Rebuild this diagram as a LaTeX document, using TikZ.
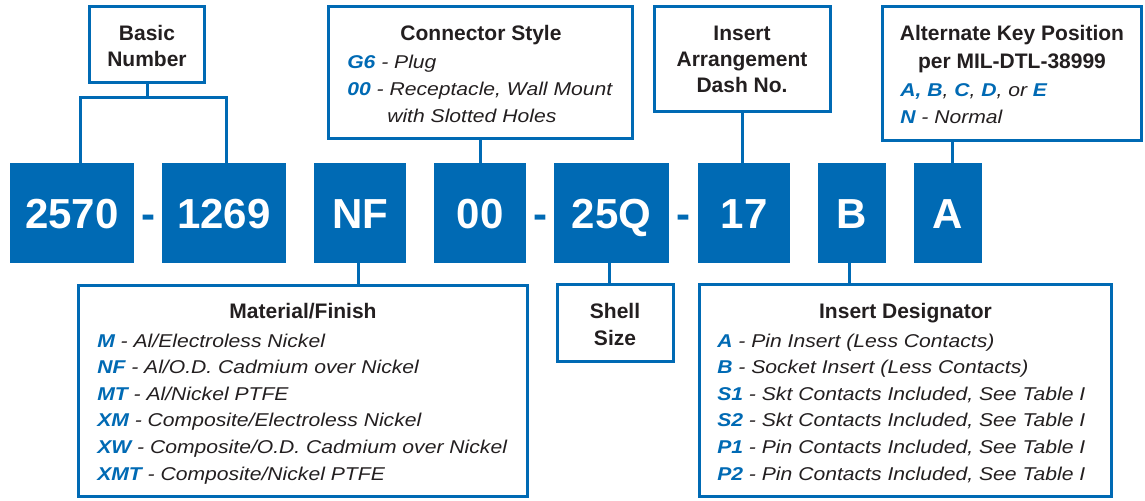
\documentclass[tikz,border=0pt]{standalone}
\usepackage{fontspec}
\setmainfont{Liberation Sans}
\newfontfamily\itemfam[FakeStretch=1.14]{Liberation Sans}
\definecolor{cblue}{RGB}{0,106,180}
\definecolor{ctext}{RGB}{35,31,32}
\newcommand\cd[1]{\textcolor{cblue}{\bfseries\itshape #1}}
\begin{document}
\begin{tikzpicture}[x=0.75pt,y=-0.75pt,
  code/.style={fill=cblue, text=white, inner sep=0pt, outer sep=0pt, minimum height=75pt,
    text height=22.55pt, text depth=0pt, font=\fontsize{31.5}{36}\selectfont\bfseries},
  hyph/.style={anchor=base, inner sep=0pt, text=cblue, font=\fontsize{31.5}{36}\selectfont\bfseries},
  obox/.style={draw=cblue, fill=white, line width=2.25pt, inner sep=0pt},
  title/.style={anchor=base, inner sep=0pt, text=ctext, font=\fontsize{15.75}{20}\selectfont\bfseries},
  item/.style={anchor=base west, inner sep=0pt, text=ctext, font=\itemfam\fontsize{13.9}{20}\selectfont\itshape},
  link/.style={draw=cblue, line width=2.25pt}]
\fill[white] (0,0) rectangle (1145,500);
\useasboundingbox (0,0) rectangle (1145,500);
% code boxes
\node[code, minimum width=93pt] (b1) at (72,213) {2570};
\node[code, minimum width=93pt] (b2) at (224,213) {1269};
\node[code, minimum width=69pt] (b3) at (360,213) {NF};
\node[code, minimum width=69pt] (b4) at (480,213) {00};
\node[code, minimum width=86.25pt] (b5) at (611.5,213) {25Q};
\node[code, minimum width=69pt] (b6) at (744,213) {17};
\node[code, minimum width=51pt] (b7) at (852,213) {B};
\node[code, minimum width=51pt] (b8) at (948,213) {A};
\node[hyph] (h1) at (148,228) {-};
\node[hyph] (h2) at (540,228) {-};
\node[hyph] (h3) at (683.5,228) {-};
% outline boxes
\node[obox, minimum width=86.25pt, minimum height=57pt] (t1) at (147,44.5) {};
\node[obox, minimum width=228pt, minimum height=99pt] (t2) at (480.5,72.5) {};
\node[obox, minimum width=132pt, minimum height=78.75pt] (t3) at (742.5,59) {};
\node[obox, minimum width=194.25pt, minimum height=100.5pt] (t4) at (1012,73.5) {};
\node[obox, minimum width=336.75pt, minimum height=158.25pt] (m) at (303,391) {};
\node[obox, minimum width=87pt, minimum height=57.75pt] (s) at (615.5,323) {};
\node[obox, minimum width=309pt, minimum height=159pt] (d) at (905.5,390.5) {};
% connectors
\coordinate (bj) at (147,97);
\draw[link] (t1.south) -- (bj);
\draw[link] ([xshift=6pt]b1.north) |- (bj) -| ([xshift=1.5pt]b2.north);
\draw[link] (t2.south) -- (t2.south |- b4.north);
\draw[link] (t3.south) -- (t3.south |- b6.north);
\draw[link] ([xshift=3pt]b8.north) -- ([xshift=3pt]b8.north |- t4.south);
\draw[link] ([xshift=-1.5pt]b3.south) -- ([xshift=-1.5pt]b3.south |- m.north);
\draw[link] ([xshift=-1.5pt]b5.south) -- ([xshift=-1.5pt]b5.south |- s.north);
\draw[link] ([xshift=-2.25pt]b7.south) -- ([xshift=-2.25pt]b7.south |- d.north);
% texts top
\node[title] (t1a) at (147,40) {Basic};
\node[title] (t1b) at (147,66.7) {Number};
\node[title] (t2a) at (481,40.5) {Connector Style};
\node[item] (t2b) at (347,68.5) {\cd{G6} - Plug};
\node[item] (t2c) at (347,95.5) {\cd{00} - Receptacle, Wall Mount};
\node[item] (t2d) at (387,122.5) {with Slotted Holes};
\node[title] (t3a) at (742,40.7) {Insert};
\node[title] (t3b) at (742,66.7) {Arrangement};
\node[title] (t3c) at (742,92.7) {Dash No.};
\node[title] (t4a) at (1012,40.5) {Alternate Key Position};
\node[title] (t4b) at (1012,68.3) {per MIL-DTL-38999};
\node[item] (t4c) at (900,96.7) {\cd{A, B}, \cd{C}, \cd{D}, or \cd{E}};
\node[item] (t4d) at (900,123) {\cd{N} - Normal};
% texts bottom
\node[title] (ma) at (303,318) {Material/Finish};
\node[item] (m1) at (97,347) {\cd{M} - Al/Electroless Nickel};
\node[item] (m2) at (97,373.6) {\cd{NF} - Al/O.D. Cadmium over Nickel};
\node[item] (m3) at (97,400.2) {\cd{MT} - Al/Nickel PTFE};
\node[item] (m4) at (97,426.8) {\cd{XM} - Composite/Electroless Nickel};
\node[item] (m5) at (97,453.4) {\cd{XW} - Composite/O.D. Cadmium over Nickel};
\node[item] (m6) at (97,480) {\cd{XMT} - Composite/Nickel PTFE};
\node[title] (sa) at (615,318.3) {Shell};
\node[title] (sb) at (615,345) {Size};
\node[title] (da) at (905.5,318) {Insert Designator};
\node[item] (d1) at (717,347) {\cd{A} - Pin Insert (Less Contacts)};
\node[item] (d2) at (717,373.6) {\cd{B} - Socket Insert (Less Contacts)};
\node[item] (d3) at (717,400.2) {\cd{S1} - Skt Contacts Included, See Table I};
\node[item] (d4) at (717,426.8) {\cd{S2} - Skt Contacts Included, See Table I};
\node[item] (d5) at (717,453.4) {\cd{P1} - Pin Contacts Included, See Table I};
\node[item] (d6) at (717,480) {\cd{P2} - Pin Contacts Included, See Table I};
\end{tikzpicture}
\end{document}
